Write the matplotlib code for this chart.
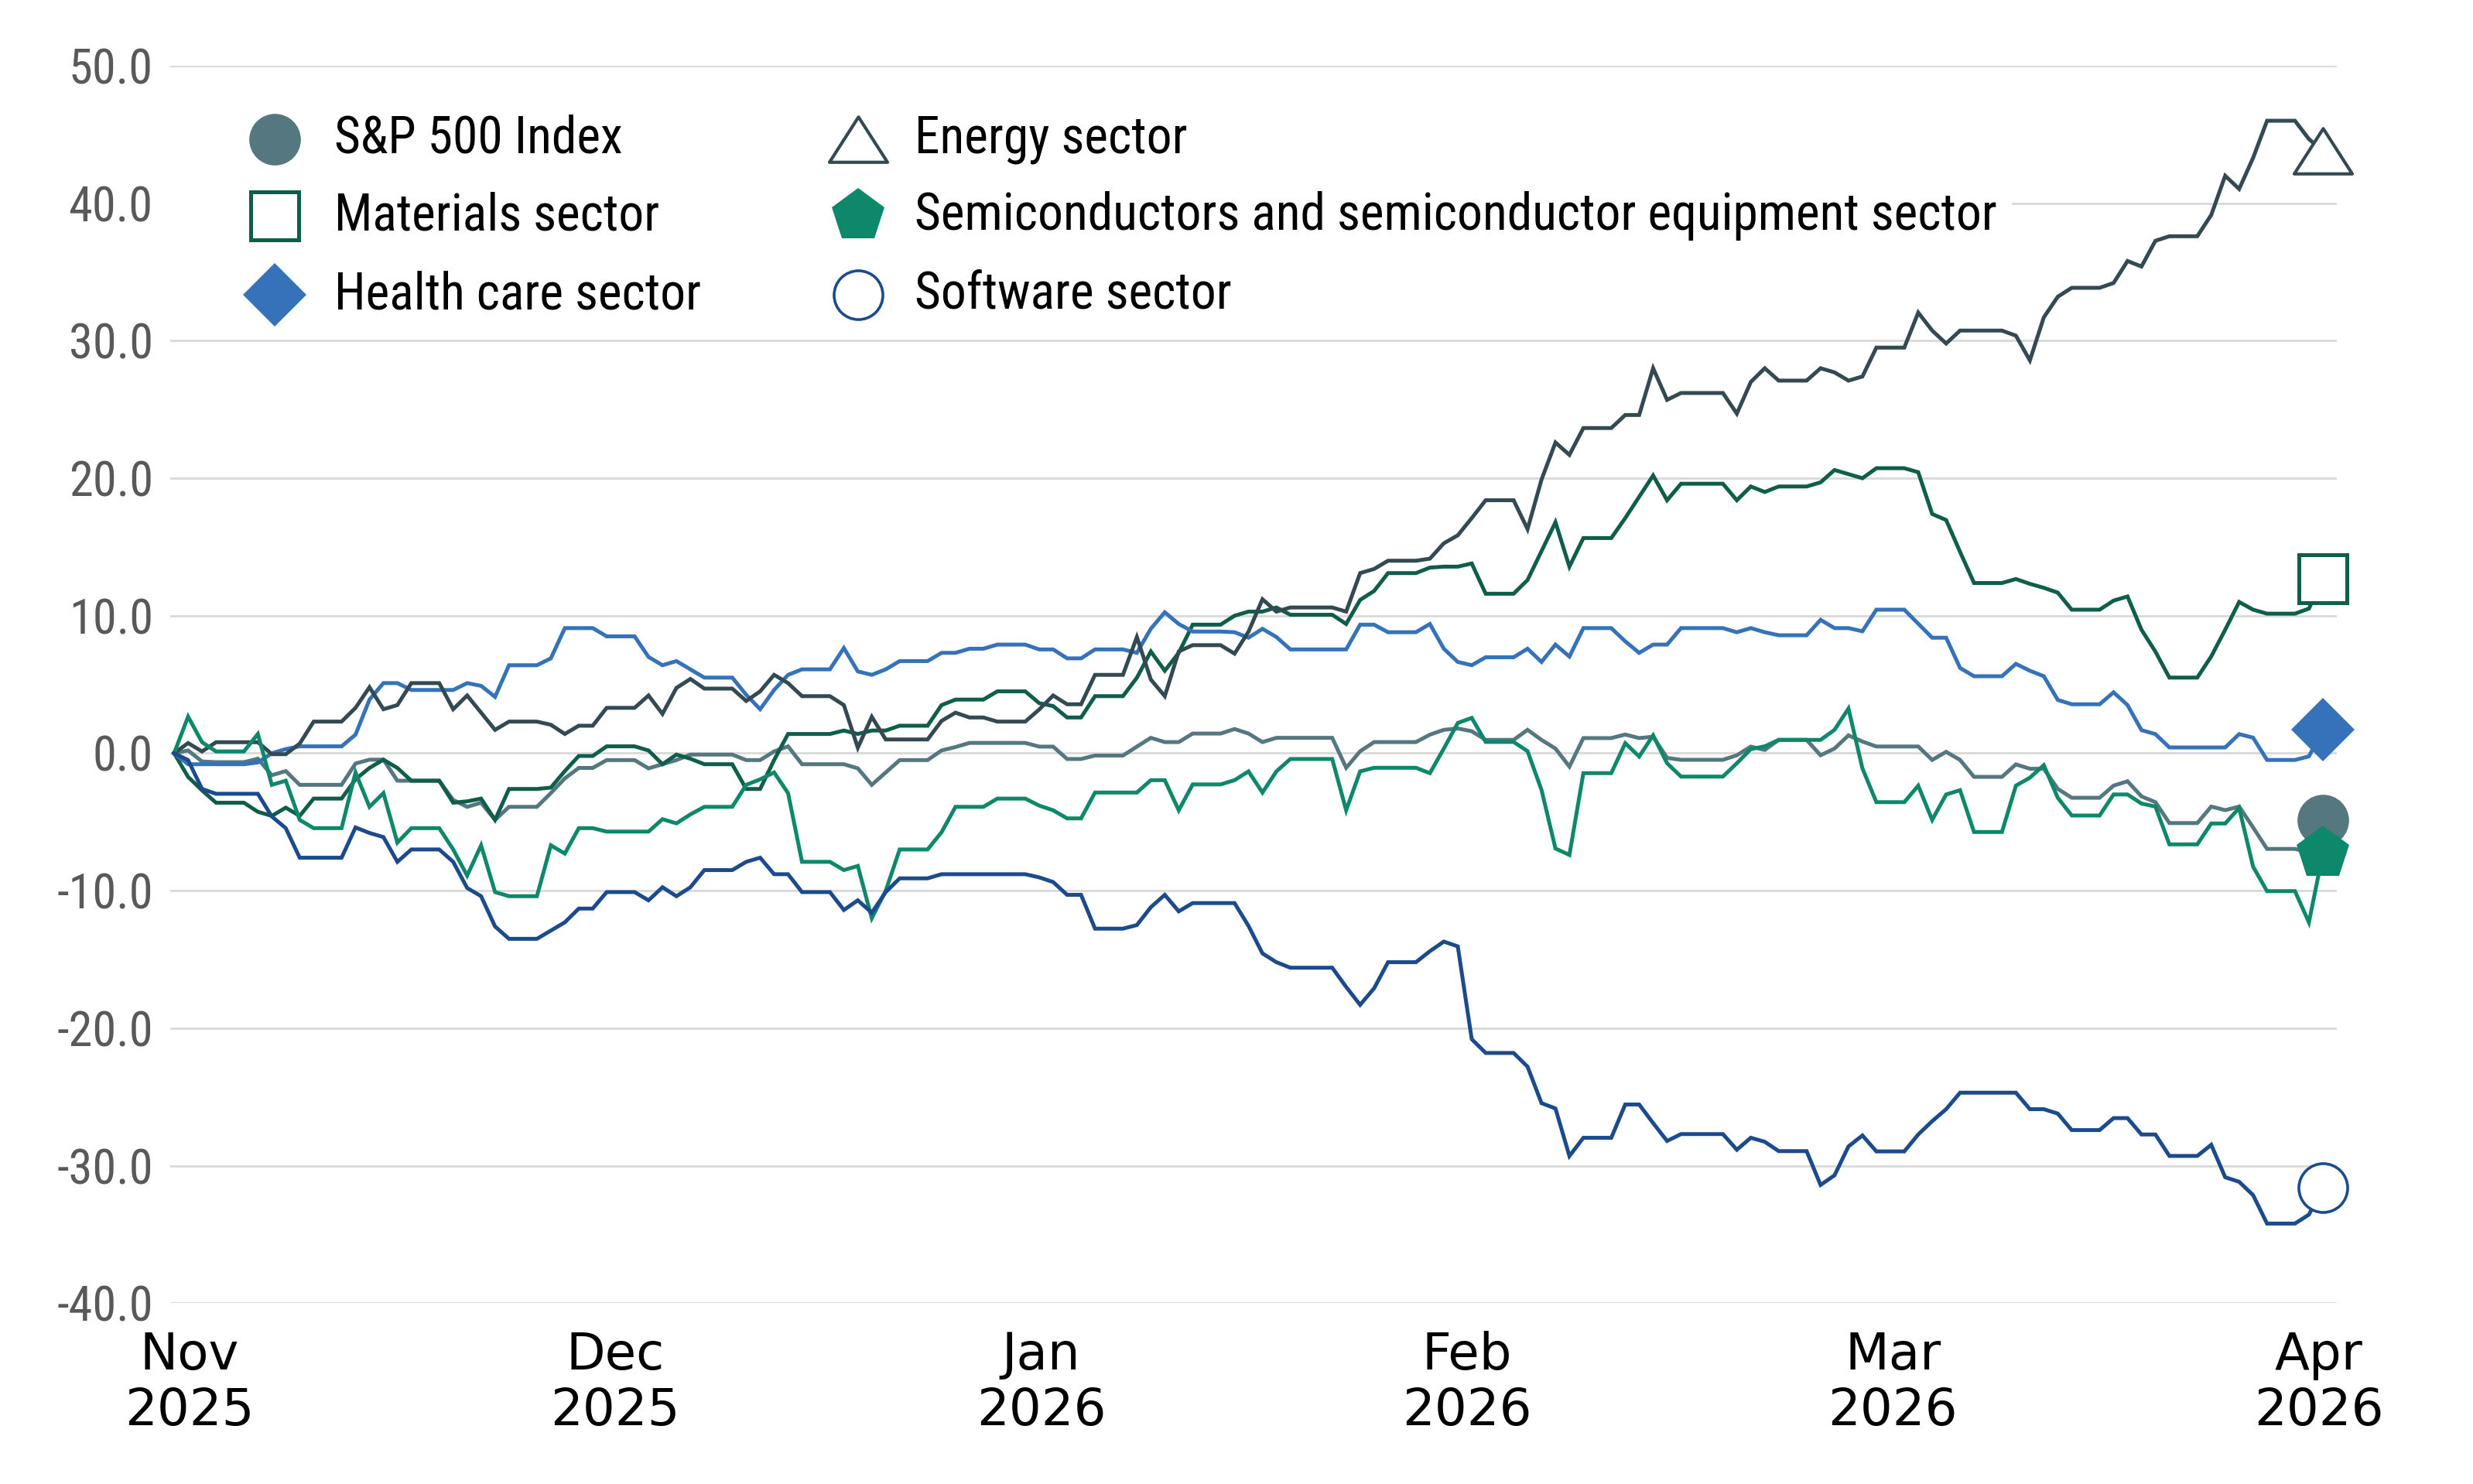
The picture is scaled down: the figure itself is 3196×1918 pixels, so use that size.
import numpy as np
import pandas as pd
import matplotlib
matplotlib.use("Agg")
import matplotlib.pyplot as plt
from matplotlib import font_manager
from matplotlib.lines import Line2D
from matplotlib.patches import Rectangle
from matplotlib.path import Path

# ── data: cumulative return (%) per trading day, one row per week ────────────
trading_days = pd.bdate_range("2025-10-28", "2026-03-31")

sp500 = [
    0.0, 0.2, -0.6, -0.65,
    -0.4, -1.6, -1.3, -2.3, -2.3,
    -0.75, -0.47, -0.47, -2.0, -2.0,
    -3.4, -3.9, -3.6, -4.85, -3.9,
    -2.9, -1.83, -1.07, -1.07, -0.5,
    -1.1, -0.8, -0.5, -0.1, -0.1,
    -0.5, -0.5, 0.13, 0.5, -0.8,
    -0.8, -1.1, -2.3, -1.4, -0.5,
    0.2, 0.45, 0.75, 0.75, 0.75,
    0.48, 0.48, -0.42, -0.42, -0.17,
    0.48, 1.12, 0.81, 0.81, 1.43,
    1.76, 1.43, 0.81, 1.12, 1.12,
    1.12, -1.06, 0.14, 0.81, 0.81,
    1.35, 1.7, 1.8, 1.6, 0.97,
    1.7, 0.97, 0.34, -0.97, 1.1,
    1.36, 1.1, 1.2, -0.34, -0.48,
    -0.48, -0.15, 0.48, 0.24, 0.97,
    -0.15, 0.34, 1.3, 0.85, 0.49,
    0.49, -0.49, 0.1, -0.49, -1.72,
    -0.81, -1.13, -1.13, -2.59, -3.24,
    -2.36, -2.04, -3.14, -3.56, -5.08,
    -3.88, -4.14, -3.88, -5.4, -6.96,
    -7.2, -4.85,
]

materials = [
    0.0, -1.72, -2.7, -3.6,
    -4.26, -4.56, -3.96, -4.56, -3.3,
    -1.9, -1.07, -0.47, -1.07, -2.0,
    -3.6, -3.5, -3.3, -4.85, -2.6,
    -2.5, -1.3, -0.2, -0.2, 0.5,
    0.2, -0.8, -0.1, -0.4, -0.8,
    -2.6, -2.6, -0.5, 1.4, 1.4,
    1.65, 1.4, 1.65, 1.65, 2.0,
    3.5, 3.9, 3.9, 3.9, 4.5,
    3.64, 3.43, 2.6, 2.6, 4.15,
    5.49, 7.4, 6.0, 7.3, 9.35,
    10.0, 10.3, 10.3, 10.6, 10.07,
    10.07, 9.4, 11.15, 11.8, 13.1,
    13.5, 13.57, 13.57, 13.8, 11.6,
    12.6, 14.7, 16.8, 13.57, 15.65,
    17.1, 18.65, 20.2, 18.4, 19.6,
    19.6, 18.4, 19.4, 19.0, 19.4,
    19.7, 20.6, 20.3, 20.0, 20.73,
    20.44, 17.4, 16.96, 14.64, 12.38,
    12.67, 12.32, 12.03, 11.68, 10.44,
    11.1, 11.4, 8.98, 7.39, 5.5,
    7.04, 8.98, 11.0, 10.44, 10.15,
    10.52, 12.7,
]

health_care = [
    0.0, -0.8, -0.8, -0.8,
    -0.67, 0.0, 0.3, 0.5, 0.5,
    1.35, 3.9, 5.1, 5.1, 4.6,
    4.6, 5.1, 4.9, 4.1, 6.4,
    6.9, 9.1, 9.1, 9.1, 8.5,
    7.0, 6.4, 6.7, 6.1, 5.5,
    4.25, 3.2, 4.6, 5.7, 6.1,
    7.65, 5.95, 5.7, 6.1, 6.7,
    7.3, 7.3, 7.6, 7.6, 7.9,
    7.55, 7.55, 6.9, 6.9, 7.55,
    7.3, 9.05, 10.25, 9.4, 8.85,
    8.8, 8.4, 9.05, 8.45, 7.55,
    7.55, 7.55, 9.35, 9.35, 8.8,
    9.4, 7.6, 6.64, 6.4, 6.98,
    7.6, 6.64, 7.9, 7.03, 9.1,
    8.14, 7.3, 7.9, 7.9, 9.1,
    9.1, 8.8, 9.1, 8.8, 8.58,
    9.7, 9.1, 9.1, 8.87, 10.44,
    9.42, 8.4, 8.4, 6.2, 5.6,
    6.5, 6.0, 5.6, 3.88, 3.56,
    4.43, 3.5, 1.68, 1.39, 0.42,
    0.42, 0.42, 1.39, 1.13, -0.49,
    -0.23, 1.7,
]

energy = [
    0.0, 0.74, 0.13, 0.8,
    0.8, -0.07, -0.07, 0.7, 2.3,
    3.3, 4.8, 3.2, 3.5, 5.1,
    3.2, 4.2, 2.95, 1.7, 2.3,
    2.07, 1.4, 2.0, 2.0, 3.3,
    4.2, 2.86, 4.75, 5.4, 4.7,
    3.8, 4.5, 5.7, 5.1, 4.15,
    3.5, 0.4, 2.65, 1.0, 1.0,
    2.35, 2.95, 2.6, 2.6, 2.3,
    3.18, 4.2, 3.56, 3.56, 5.7,
    8.45, 5.36, 4.15, 7.4, 7.86,
    7.24, 8.84, 11.2, 10.3, 10.6,
    10.6, 10.3, 13.1, 13.4, 14.0,
    14.15, 15.27, 15.85, 17.1, 18.4,
    16.3, 19.9, 22.6, 21.7, 23.65,
    24.6, 24.6, 28.0, 25.7, 26.2,
    26.2, 24.7, 27.0, 28.0, 27.1,
    28.0, 27.7, 27.1, 27.4, 29.5,
    32.05, 30.74, 29.8, 30.74, 30.74,
    30.37, 28.57, 31.7, 33.2, 33.85,
    34.2, 35.8, 35.4, 37.27, 37.6,
    39.15, 42.0, 41.04, 43.3, 46.0,
    44.67, 43.8,
]

semis = [
    0.0, 2.66, 0.8, 0.13,
    1.4, -2.3, -2.0, -4.85, -5.45,
    -1.4, -3.9, -2.9, -6.5, -5.45,
    -7.0, -8.9, -6.7, -10.1, -10.4,
    -6.7, -7.3, -5.45, -5.45, -5.7,
    -5.7, -4.8, -5.1, -4.45, -3.9,
    -2.3, -1.9, -1.4, -2.9, -7.9,
    -8.5, -8.2, -12.0, -10.0, -7.0,
    -5.75, -3.9, -3.9, -3.9, -3.3,
    -3.81, -4.15, -4.74, -4.74, -2.86,
    -2.86, -1.96, -1.96, -4.15, -2.27,
    -1.96, -1.32, -2.86, -1.32, -0.42,
    -0.42, -4.15, -1.32, -1.06, -1.06,
    -1.45, 0.34, 2.2, 2.57, 0.82,
    0.15, -2.67, -6.93, -7.4, -1.45,
    0.73, -0.24, 1.3, -0.73, -1.7,
    -1.7, -0.73, 0.3, 0.5, 0.97,
    0.97, 1.7, 3.25, -1.1, -3.56,
    -2.36, -4.85, -3.0, -2.69, -5.73,
    -2.36, -1.78, -0.87, -3.24, -4.53,
    -3.0, -3.0, -3.66, -3.88, -6.63,
    -5.11, -5.11, -3.98, -8.25, -10.03,
    -12.3, -7.3,
]

software = [
    0.0, -0.5, -2.6, -2.95,
    -2.95, -4.6, -5.45, -7.6, -7.6,
    -5.4, -5.8, -6.1, -7.9, -7.0,
    -7.9, -9.8, -10.4, -12.6, -13.5,
    -12.9, -12.3, -11.3, -11.3, -10.1,
    -10.7, -9.75, -10.4, -9.75, -8.5,
    -7.9, -7.6, -8.8, -8.8, -10.1,
    -11.4, -10.7, -11.6, -10.1, -9.1,
    -8.8, -8.8, -8.8, -8.8, -8.8,
    -9.03, -9.37, -10.3, -10.3, -12.76,
    -12.5, -11.2, -10.3, -11.5, -10.9,
    -10.9, -12.56, -14.56, -15.2, -15.6,
    -15.6, -17.0, -18.3, -17.1, -15.2,
    -14.4, -13.7, -14.05, -20.8, -21.8,
    -22.8, -25.45, -25.84, -29.3, -27.97,
    -25.55, -25.55, -26.9, -28.2, -27.7,
    -27.7, -28.84, -27.97, -28.26, -28.94,
    -31.4, -30.7, -28.6, -27.8, -28.96,
    -27.73, -26.76, -25.89, -24.69, -24.69,
    -24.69, -25.89, -25.89, -26.21, -27.41,
    -26.54, -26.54, -27.73, -27.73, -29.29,
    -28.48, -30.84, -31.17, -32.14, -34.21,
    -33.56, -31.6,
]

labels = [
    "S&P 500 Index",
    "Materials sector",
    "Health care sector",
    "Energy sector",
    "Semiconductors and semiconductor equipment sector",
    "Software sector",
]
month_labels = ["Nov\n2025", "Dec\n2025", "Jan\n2026", "Feb\n2026", "Mar\n2026", "Apr\n2026"]
y_ticks = np.arange(-40, 51, 10)

# ── styling ───────────────────────────────────────────────────────────────────
installed = {f.name for f in font_manager.fontManager.ttflist}
narrow = next((n for n in ["Roboto Condensed", "Liberation Sans Narrow", "DejaVu Sans Condensed"]
               if n in installed), "Liberation Sans")

tri = Path([(-1, -0.78), (1, -0.78), (0, 0.78), (-1, -0.78)],
           [Path.MOVETO, Path.LINETO, Path.LINETO, Path.CLOSEPOLY])

styles = [
    dict(color="#557780", marker="o", ms=24, mfc="#557780", mew=0),
    dict(color="#0f5e4b", marker="s", ms=22, mfc="white", mew=1.8),
    dict(color="#3572b9", marker="D", ms=21, mfc="#3572b9", mew=0),
    dict(color="#344a53", marker=tri, ms=27, mfc="white", mew=1.5),
    dict(color="#0e886a", marker="p", ms=26, mfc="#0e886a", mew=0),
    dict(color="#1b4b8c", marker="o", ms=22.7, mfc="white", mew=1.3),
]

# calendar days, weekends carry the Friday value
all_days = pd.date_range(trading_days[0], trading_days[-1], freq="D")
series = [sp500, materials, health_care, energy, semis, software]
daily = [pd.Series(s, index=trading_days).reindex(all_days).ffill() for s in series]

fig = plt.figure(figsize=(15.98, 9.59), dpi=200)
ax = fig.add_axes([220 / 3196, 1 - 1684.3 / 1918, 2800 / 3196, 1599.3 / 1918])

draw_order = [0, 4, 5, 2, 1, 3]
for i in draw_order:
    st = styles[i]
    ax.plot(daily[i].index, daily[i].values, color=st["color"], lw=1.8, zorder=2 + 0.1 * i,
            solid_joinstyle="miter")
for i in draw_order:
    st = styles[i]
    ax.plot([daily[i].index[-1]], [daily[i].values[-1]], linestyle="none", marker=st["marker"],
            ms=st["ms"], mfc=st["mfc"], mec=st["color"], mew=st["mew"], zorder=5, clip_on=False)

start = trading_days[0]
ax.set_xlim(start - pd.Timedelta(days=0.28), start + pd.Timedelta(days=155.0))
ax.set_ylim(-40, 50)

tick_pos = [start + pd.Timedelta(days=float(d)) for d in np.linspace(1.09, 153.7, 6)]
ax.set_xticks(tick_pos)
ax.set_xticklabels(month_labels, fontsize=23.7, family="DejaVu Sans", color="black", linespacing=1.15)
ax.set_yticks(y_ticks)
ax.set_yticklabels([f"{v:.1f}" for v in y_ticks], fontsize=22.5, family=narrow, color="#595959")
ax.tick_params(axis="x", length=0, pad=13)
ax.tick_params(axis="y", length=0, pad=8)

for sp in ax.spines.values():
    sp.set_visible(False)
ax.yaxis.grid(True, color="#d9d9d9", lw=1.0)
ax.xaxis.grid(False)
ax.set_axisbelow(True)

# white panel behind the legend hides part of the 40 gridline
ax.add_patch(Rectangle((0, 0.803), (2600 - 220) / 2800, 0.972 - 0.803, transform=ax.transAxes,
                       facecolor="white", edgecolor="none", zorder=1))

# ── legend, two columns ───────────────────────────────────────────────────────
col_marker_x = [355, 1109]
col_text_x = [432, 1182]
row_y = [180, 279, 381]
for k, (lab, st) in enumerate(zip(labels, styles)):
    col, row = divmod(k, 3)
    fx, fy = col_marker_x[col] / 3196, 1 - row_y[row] / 1918
    fig.add_artist(Line2D([fx], [fy], transform=fig.transFigure, linestyle="none",
                          marker=st["marker"], ms=st["ms"], mfc=st["mfc"], mec=st["color"],
                          mew=st["mew"]))
    fig.text(col_text_x[col] / 3196, fy, lab, fontsize=23.6, family=narrow, color="black",
             va="center", ha="left")

fig.savefig("out.png", dpi=200)
